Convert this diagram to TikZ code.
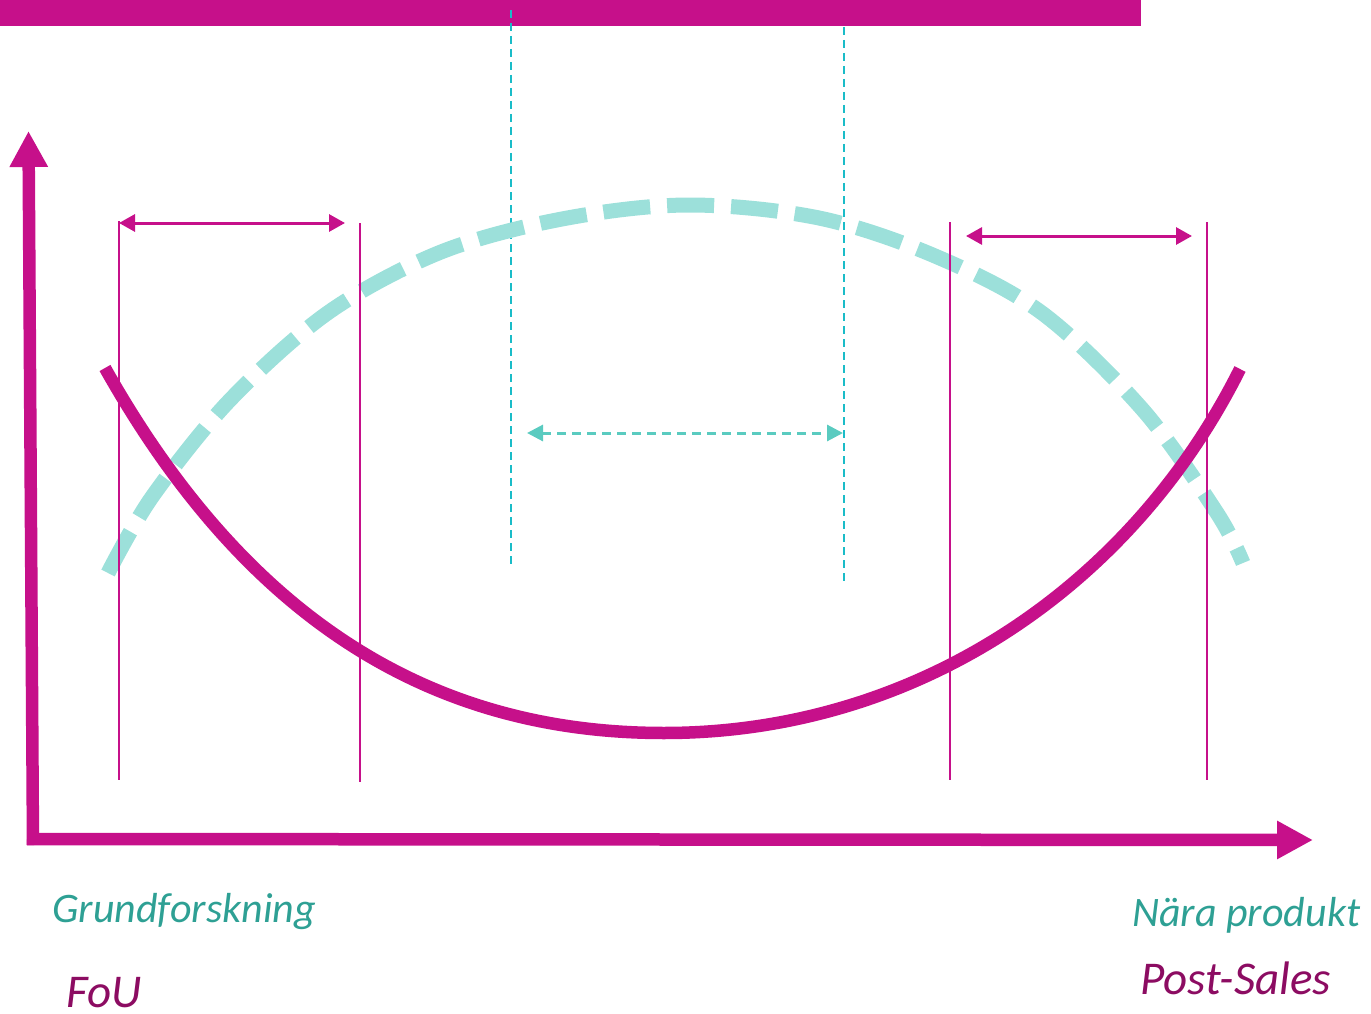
\documentclass[tikz,border=0pt]{standalone}
\usepackage{fontspec}
\setmainfont{Carlito}
\usetikzlibrary{arrows.meta}
\definecolor{mag}{RGB}{198,16,138}
\definecolor{magtext}{RGB}{140,12,98}
\definecolor{tealtext}{RGB}{46,160,148}
\definecolor{lightteal}{RGB}{156,224,218}
\definecolor{cyanline}{RGB}{26,188,200}
\definecolor{mint}{RGB}{90,203,192}
\tikzset{
  axis/.style={draw=mag, line width=12.5pt, -{Triangle[length=36pt,width=36pt]}},
  thinmag/.style={draw=mag, line width=2pt},
  magarrow/.style={draw=mag, line width=3pt, {Triangle[length=16pt,width=17pt]}-{Triangle[length=16pt,width=17pt]}},
  cyandash/.style={draw=cyanline, line width=2pt, dash pattern=on 8pt off 5pt},
  mintarrow/.style={draw=mint, line width=3pt, dash pattern=on 9pt off 6pt, {Triangle[length=16pt,width=16pt]}-{Triangle[length=16pt,width=16pt]}},
  bigcurve/.style={draw=mag, line width=12.5pt},
  tealcurve/.style={draw=lightteal, line width=15pt, dash pattern=on 47pt off 17pt},
  label/.style={inner sep=0pt, anchor=base west, text depth=0pt, font=\itshape\fontsize{42}{50}\selectfont},
  maglabel/.style={label, text=magtext, font=\itshape\fontsize{47}{54}\selectfont}
}
\begin{document}
\begin{tikzpicture}[x=1pt, y=-1pt]
\useasboundingbox (0,0) rectangle (1371,1014);
% top bar
\fill[mag] (0,0) rectangle (1141,26);
% coordinates
\coordinate (v1t) at (119,221); \coordinate (v1b) at (119,780);
\coordinate (v2t) at (360,223); \coordinate (v2b) at (360,782);
\coordinate (v3t) at (950,222); \coordinate (v3b) at (950,780);
\coordinate (v4t) at (1207,222); \coordinate (v4b) at (1207,780);
\coordinate (d1t) at (511,10); \coordinate (d1b) at (511,568);
\coordinate (d2t) at (844,27); \coordinate (d2b) at (844,585);
\coordinate (a1l) at (119,223); \coordinate (a1r) at (345,223);
\coordinate (a2l) at (966,236); \coordinate (a2r) at (1192,236);
\coordinate (a3l) at (527,433); \coordinate (a3r) at (843,433);
\coordinate (origin) at (33,845);
\coordinate (ytip) at (28.5,131);
\coordinate (xstart) at (27,839);
\coordinate (xtip) at (1313,840);
% dashed cyan verticals
\draw[cyandash] (d1t) -- (d1b);
\draw[cyandash] (d2t) -- (d2b);
% teal dashed curve
\draw[tealcurve] plot[smooth, tension=0.55] coordinates {(108,573) (152,497) (230,400) (329,312) (441,252) (562,219) (688,205) (819,218) (935,256) (1042,313) (1143,410) (1217,513) (1243,563)};
% thin magenta verticals
\draw[thinmag] (v1t) -- (v1b);
\draw[thinmag] (v2t) -- (v2b);
\draw[thinmag] (v3t) -- (v3b);
\draw[thinmag] (v4t) -- (v4b);
% magenta double arrows
\draw[magarrow] (a1l) -- (a1r);
\draw[magarrow] (a2l) -- (a2r);
% mint dashed double arrow
\draw[mintarrow] (a3l) -- (a3r);
% big magenta curve
\draw[bigcurve] (105,368) .. controls (248,622) and (434,733) .. (664,733)
                .. controls (914,733) and (1130,589) .. (1240,369);
% axes
\draw[axis] (origin) -- (ytip);
\draw[axis] (xstart) -- (xtip);
% labels
\node[label, text=tealtext] (grund) at (52,922) {Grundforskning};
\node[maglabel] (fou) at (66,1007) {FoU};
\node[label, text=tealtext] (nara) at (1132,926) {Nära produkt};
\node[maglabel] (post) at (1140,994) {Post-Sales};
\end{tikzpicture}
\end{document}
